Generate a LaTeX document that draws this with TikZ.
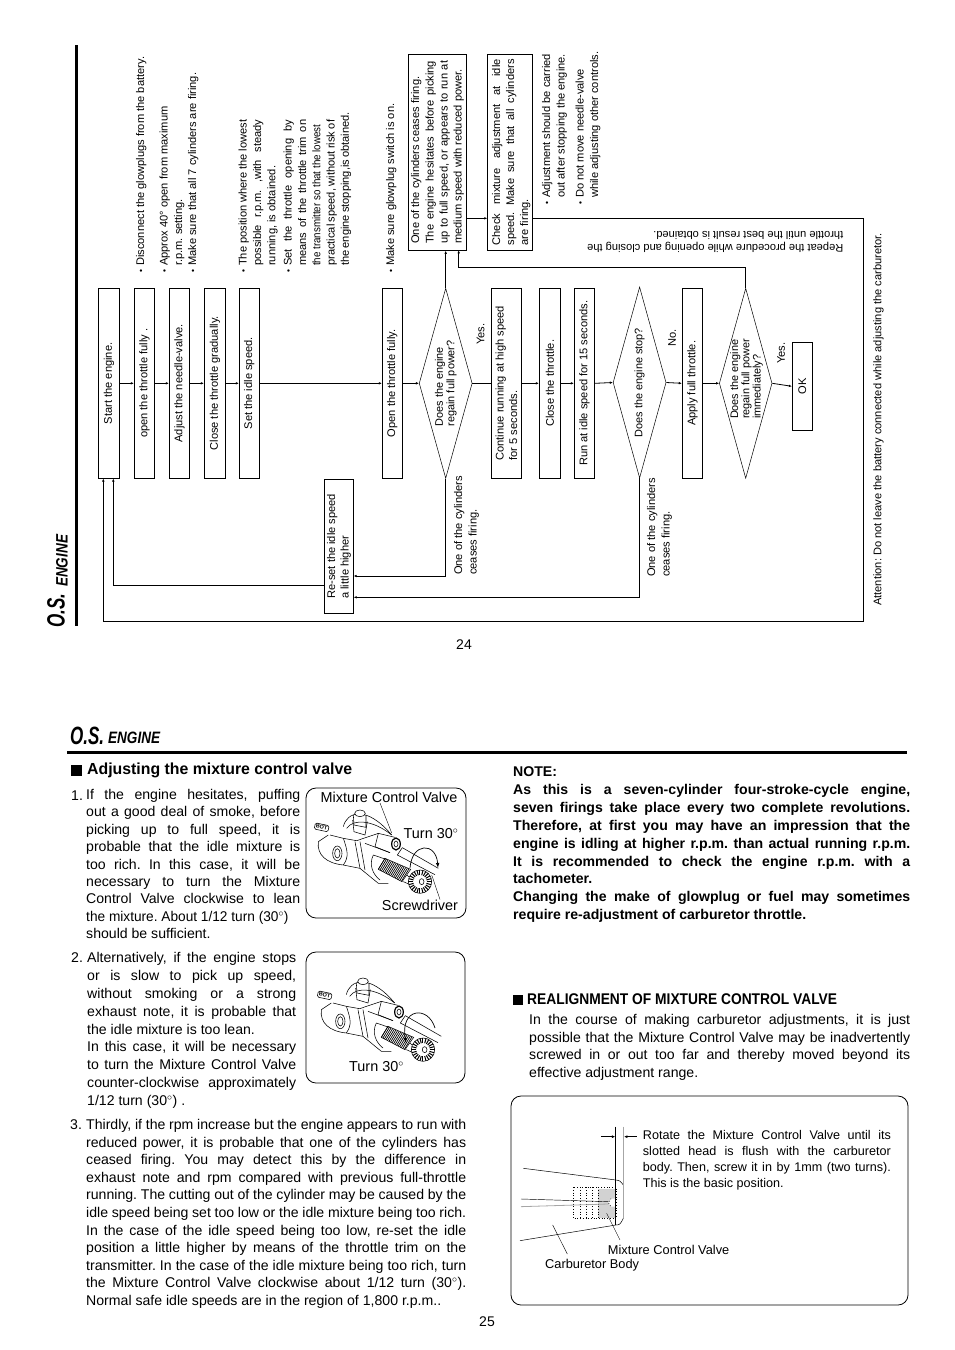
\documentclass[tikz,border=0pt]{standalone}
\usepackage{fontspec}
\setmainfont{Liberation Sans}
\usetikzlibrary{arrows.meta,positioning,shapes.geometric}
\newcommand\bul{\makebox[7pt][l]{\raisebox{.4pt}{\fontsize{8.5}{8}\selectfont\textbullet}}}
\newcommand\ind{\hspace*{7pt}}
\newcommand\dg{$^{\circ}$}
\tolerance=9999 \hbadness=10000 \hfuzz=20pt
\frenchspacing

\tikzset{
  carb/.pic={
    \begin{scope}[x=.3333pt,y=-.3333pt,line width=.55pt]
      \node[draw,rounded corners=1.5pt,rotate=-12,inner sep=1.2pt,font=\fontsize{5.5}{6}\selectfont\bfseries] (tag) at (35,82) {BOT};
      \draw (55,105) -- (25,125) .. controls (20,165) and (50,190) .. (100,195);
      \draw (60,105) -- (100,115) -- (140,122) -- (205,100);
      \draw (82,160) ellipse (14 and 22) (82,160) ellipse (8 and 14);
      \draw (100,115) .. controls (112,150) and (118,170) .. (100,195);
      \draw (100,195) -- (150,205) -- (205,250) -- (235,250);
      \draw (135,125) -- (150,205) (150,125) -- (165,210) (165,130) -- (240,158);
      \draw (100,80) .. controls (110,35) and (170,15) .. (245,105);
      \draw (110,85) .. controls (130,55) and (190,60) .. (245,105);
      \draw (128,60) -- (132,95) -- (165,105) -- (172,65);
      \draw[fill=white] (150,40) ellipse (16 and 10);
      \draw (130,45) -- (132,75) -- (168,82) -- (168,45);
      \draw (205,100) -- (255,112) (205,100) -- (195,140) -- (240,158);
      \draw[line width=1.2pt] (258,132) ellipse (13 and 18);
      \draw (258,132) ellipse (6 and 9);
      \draw (190,165) .. controls (175,195) and (190,225) .. (210,240);
      \draw (190,165) -- (228,178);
      \draw (225,175) -- (302,208) -- (276,245) -- (205,208) -- cycle;
      \foreach \t in {0,...,15} \draw[line width=.7pt] ({225+\t*4.8},{175+\t*2.1}) -- ({205+\t*4.6},{208+\t*2.4});
      \draw (290,225) -- (310,240) (280,245) -- (296,252);
      \draw (277,143) -- (385,205) (262,165) -- (375,224);
      \draw (277,143) -- (262,165);
      \draw[fill=white] (330,245) circle (35);
      \foreach \a in {0,15,...,345} \draw[line width=1pt] ({330+20*cos(\a)},{245+20*sin(\a)}) -- ({330+35*cos(\a)},{245+35*sin(\a)});
      \draw (335,245) ellipse (7 and 9);
    \end{scope}
  }
}

\begin{document}
\begin{tikzpicture}[
  x=1pt, y=-1pt,
  flowbox/.style={draw, line width=.9pt, rotate=90, minimum width=190pt, inner sep=0pt, align=center, font=\fontsize{11.1}{13.5}\selectfont},
  query/.style={draw, line width=.5pt, diamond, rotate=90, minimum width=190pt, minimum height=53pt, inner sep=0pt, shape aspect=3.6, align=center, font=\fontsize{10.9}{11.5}\selectfont},
  note/.style={rotate=90, anchor=north west, inner sep=0pt, align=left, font=\fontsize{11.1}{14.3}\selectfont},
  para/.style={anchor=north west, inner sep=0pt, align=justify, font=\fontsize{14.1}{17.6}\selectfont},
  arr/.style={-{Latex[length=3pt,width=2.6pt]}, line width=.8pt},
  wire/.style={line width=.8pt},
  panel/.style={draw, line width=.8pt, rounded corners=10pt},
  leader/.style={line width=.4pt},
  logo/.style={inner sep=0pt, font=\bfseries\itshape}
]
  \useasboundingbox (0,0) rectangle (954,1350);

  % flow chart, lying on its side
  \draw[line width=3pt] (76,45) -- (76,626);
  \node[flowbox, minimum height=21pt] (start) at (109,383.3) {Start the engine.};
  \node[flowbox, minimum height=20.4pt] (openthr) at (144.5,383.3) {open the throttle fully .};
  \node[flowbox, minimum height=20.4pt] (needle) at (179.5,383.3) {Adjust the needle-valve.};
  \node[flowbox, minimum height=21.4pt] (closegrad) at (215,383.3) {Close the throttle gradually.};
  \node[flowbox, minimum height=20pt] (idle) at (249.3,383.3) {Set the idle speed.};
  \node[flowbox, minimum height=20pt] (openfull) at (392.3,383.3) {Open the throttle fully.};
  \node[query, align=left] (power) at (445.7,383.3) {Does the engine\\regain full power?};
  \node[flowbox, minimum height=30.4pt, align=left] (cont) at (506.5,383.3) {Continue running at high speed\\for 5 seconds.};
  \node[flowbox, minimum height=21.4pt] (closethr) at (550,383.3) {Close the throttle.};
  \node[flowbox, minimum height=20.4pt] (run) at (584.5,383.3) {Run at idle speed for 15 seconds.};
  \node[query, minimum width=191pt] (stops) at (639.6,382.5) {Does the engine stop?};
  \node[flowbox, minimum height=20.4pt] (apply) at (692.5,383.3) {Apply full throttle.};
  \node[query, minimum height=52.7pt] (again) at (745.7,383.3) {};
  \node[rotate=90, inner sep=0pt, align=left, font=\fontsize{10.9}{11.3}\selectfont] (againtxt) at (746.5,379) {Does the engine\\regain full power\\immediately?};
  \node[flowbox, minimum width=88pt, minimum height=20pt] (ok) at (802.3,386.3) {OK};
  \node[flowbox, minimum width=134pt, minimum height=29.4pt, align=left] (reset) at (339,546.3) {Re-set the idle speed\\a little higher};
  \node[flowbox, minimum width=196pt, minimum height=58.4pt] (ceases) at (437.5,152.3) {\parbox{183pt}{\fontsize{11.1}{14}\selectfont\raggedright One of the cylinders ceases firing.\\[.6pt]\leavevmode\makebox[183pt][s]{The engine hesitates before picking}\\\makebox[183pt][s]{up to full speed, or appears to run at}\\medium speed with reduced power.}};
  \node[flowbox, minimum width=196pt, minimum height=45pt] (check) at (509.8,152.3) {\parbox{186pt}{\fontsize{11.1}{14}\selectfont\raggedright\vspace*{3pt}\makebox[186pt][s]{Check mixture adjustment at idle}\\\makebox[186pt][s]{speed. Make sure that all cylinders}\\are firing.}};

  \draw[arr] (start.south) -- (openthr.north);
  \draw[arr] (openthr.south) -- (needle.north);
  \draw[arr] (needle.south) -- (closegrad.north);
  \draw[arr] (closegrad.south) -- (idle.north);
  \draw[arr] (idle.south) -- (openfull.north);
  \draw[arr] (openfull.south) -- (power.north);
  \draw[wire] (power.south) -- (cont.north);
  \draw[arr] (cont.south) -- (closethr.north);
  \draw[arr] (closethr.south) -- (run.north);
  \draw[arr] (run.south) -- (stops.north);
  \draw[arr] (stops.south) -- (apply.north);
  \draw[arr] (apply.south) -- (again.north);
  \draw[arr] (again.south) -- (ok.north);
  \draw[arr] (power.east) -- (power.east |- ceases.west);

  % return lines
  \coordinate (startleft) at (103.3,478.5);
  \coordinate (startright) at (113.3,478.5);
  \coordinate (resetout) at (324.3,585.3);
  \coordinate (resetin) at (353.7,576);
  \coordinate (resetin2) at (353.7,597.3);
  \coordinate (cornerbl) at (863.3,621.3);
  \coordinate (cornertr) at (863.3,218.3);
  \coordinate (checkout) at (532.3,218.3);
  \coordinate (checkin) at (487.3,218.3);
  \coordinate (ceasesout) at (466.7,218.3);
  \coordinate (ceasesin) at (458.7,250.3);
  \draw[arr] (resetout) -| (startright);
  \draw[arr] (power.west) |- (resetin);
  \draw[arr] (stops.west) |- (resetin2);
  \draw[arr] (checkout) -- (cornertr) -- (cornerbl) -| (startleft);
  \draw[arr] (ceasesout) -- (checkin);
  \draw[arr] (again.east) |- (ceasesin |- 0,267.3) -- (ceasesin);

  % notes along the chart
  \node[note] (n1) at (136,273) {\bul Disconnect the glowplugs from the battery.};
  \node[note] (n2) at (159.5,273) {\bul Approx 40\textdegree\ open from maximum\\\ind r.p.m. setting.};
  \node[note] (n3) at (188,273) {\bul Make sure that all 7 cylinders are firing.};
  \node[note] (n4) at (238.5,273) {\bul\makebox[146pt][s]{The position where the lowest}\\\ind\makebox[146pt][s]{possible r.p.m. ,with steady}\\\ind running, is obtained.};
  \node[note] (n5) at (283.5,273) {\bul\makebox[146pt][s]{Set the throttle opening by}\\\ind\makebox[146pt][s]{means of the throttle trim on}\\\ind\makebox[146pt][s]{\scalebox{.88}[1]{the transmitter so that the lowest}}\\\ind\makebox[146pt][s]{practical speed, without risk of}\\\ind\makebox[146pt][s]{the engine stopping,is obtained.}};
  \node[note] (n6) at (386,273) {\bul Make sure glowplug switch is on.};
  \node[note] (n7) at (542,205) {\bul Adjustment should be carried\\\ind out after stopping the engine.};
  \node[note] (n8) at (575.5,205) {\bul Do not move needle-valve\\\ind while adjusting other controls.};

  \node[note] (firing1) at (454,575) {One of the cylinders\\ceases firing.};
  \node[note] (firing2) at (647,577) {One of the cylinders\\ceases firing.};
  \node[note] (yes1) at (476.5,345) {Yes.};
  \node[note] (no) at (668,347) {No.};
  \node[note] (yes2) at (777,364) {Yes.};
  \node[note] (attn) at (873,606) {Attention: Do not leave the battery connected while adjusting the carburetor.};
  \node[inner sep=0pt, rotate=180, align=left, anchor=north west, font=\fontsize{11.1}{13}\selectfont] (repeat) at (843.5,253) {Repeat the procedure while opening and closing the\\throttle until the best result is obtained.};

  % logos and rules
  \node[logo, rotate=90, anchor=north west] (os1) at (47,627.5) {\scalebox{.68}[1]{\fontsize{25}{25}\selectfont O.S.}};
  \node[logo, rotate=90, anchor=north west] (eng1) at (56,587) {\scalebox{.82}[1]{\fontsize{16.5}{17}\selectfont ENGINE}};
  \node[logo, anchor=north west] (os2) at (70,727) {\scalebox{.68}[1]{\fontsize{25}{25}\selectfont O.S.}};
  \node[logo, anchor=north west] (eng2) at (108,732) {\scalebox{.82}[1]{\fontsize{16.5}{17}\selectfont ENGINE}};
  \draw[line width=3pt] (67,752.5) -- (907,752.5);
  \node[inner sep=0pt, font=\fontsize{14}{14}\selectfont] (page24) at (464,645) {24};
  \node[inner sep=0pt, font=\fontsize{14}{14}\selectfont] (page25) at (487,1322) {25};

  % left column
  \node[fill=black, minimum size=10.5pt, inner sep=0pt] (sq1) at (76.5,770.5) {};
  \node[inner sep=0pt, anchor=west, font=\fontsize{16}{18}\selectfont\bfseries] (head1) at (87,770) {\scalebox{.99}[1]{Adjusting the mixture control valve}};
  \node[para, text width=14pt] (num1) at (71,791) {1.};
  \node[para, text width=214pt, font=\fontsize{14.1}{17.4}\selectfont] (item1) at (86,789) {If the engine hesitates, puffing\linebreak out a good deal of smoke, before\linebreak picking up to full speed, it is\linebreak probable that the idle mixture is\linebreak too rich. In this case, it will be\linebreak necessary to turn the Mixture\linebreak Control Valve clockwise to lean\linebreak \scalebox{.97}[1]{the mixture. About 1/12 turn (30\dg)}\linebreak should be sufficient.};
  \node[para, text width=14pt] (num2) at (71,952) {2.};
  \node[para, text width=209pt, font=\fontsize{14.1}{17.9}\selectfont] (item2) at (87,952) {Alternatively, if the engine stops\linebreak or is slow to pick up speed,\linebreak without smoking or a strong\linebreak exhaust note, it is probable that\linebreak the idle mixture is too lean.\\In this case, it will be necessary\linebreak to turn the Mixture Control Valve\linebreak counter-clockwise approximately\linebreak 1/12 turn (30\dg) .};
  \node[para, text width=14pt] (num3) at (70,1119) {3.};
  \node[para, text width=380pt] (item3) at (86,1119) {Thirdly, if the rpm increase but the engine appears to run with\linebreak reduced power, it is probable that one of the cylinders has\linebreak ceased firing. You may detect this by the difference in\linebreak exhaust note and rpm compared with previous full-throttle\linebreak running. The cutting out of the cylinder may be caused by the\linebreak idle speed being set too low or the idle mixture being too rich.\linebreak In the case of the idle speed being too low, re-set the idle\linebreak position a little higher by means of the throttle trim on the\linebreak transmitter. In the case of the idle mixture being too rich, turn\linebreak the Mixture Control Valve clockwise about 1/12 turn (30\dg).\linebreak Normal safe idle speeds are in the region of 1,800 r.p.m..};

  % valve pictures
  \node[panel, minimum width=160pt, minimum height=130pt] (valve1) at (386,853) {};
  \pic at (310,800) {carb};
  \node[inner sep=0pt, font=\fontsize{14.4}{15}\selectfont] (mcv) at (389,797) {Mixture Control Valve};
  \node[inner sep=0pt, font=\fontsize{14.4}{15}\selectfont] (turn1) at (431,834) {Turn 30\dg};
  \node[inner sep=0pt, font=\fontsize{14.4}{15}\selectfont] (driver) at (420,905) {Screwdriver};
  \coordinate (mcvtip) at (391.7,833);
  \coordinate (drivertip) at (431.7,875);
  \draw[leader] (380,803) -- (mcvtip);
  \draw[leader] (drivertip) -- (driver.north -| 440,0);
  \coordinate (arc1a) at (410,868);
  \coordinate (arc1b) at (438,868);
  \draw[-{Latex[length=5pt,width=3.5pt]}, line width=.7pt] (arc1a) .. controls (412,842) and (436,842) .. (arc1b);

  \node[panel, minimum width=159pt, minimum height=131pt] (valve2) at (385.5,1017.5) {};
  \pic at (313,968) {carb};
  \node[inner sep=0pt, font=\fontsize{14.4}{15}\selectfont] (turn2) at (376.5,1067) {Turn 30\dg};
  \coordinate (arc2a) at (435,1028);
  \coordinate (arc2b) at (406,1043);
  \draw[-{Latex[length=5pt,width=3.5pt]}, line width=.7pt] (arc2a) .. controls (428,1005) and (400,1008) .. (arc2b);

  % right column
  \node[para, text width=397pt, font=\fontsize{14.1}{17.9}\selectfont\bfseries] (notetxt) at (513,766.5) {NOTE:\\As this is a seven-cylinder four-stroke-cycle engine,\linebreak seven firings take place every two complete revolutions.\linebreak Therefore, at first you may have an impression that the\linebreak engine is idling at higher r.p.m. than actual running r.p.m.\linebreak It is recommended to check the engine r.p.m. with a\linebreak tachometer.\\Changing the make of glowplug or fuel may sometimes\linebreak require re-adjustment of carburetor throttle.};
  \node[fill=black, minimum size=10pt, inner sep=0pt] (sq2) at (518,1000) {};
  \node[inner sep=0pt, anchor=west, font=\fontsize{15.5}{17}\selectfont\bfseries] (head2) at (527,999) {\scalebox{.89}[1]{REALIGNMENT OF MIXTURE CONTROL VALVE}};
  \node[para, text width=381pt] (realign) at (529,1014) {In the course of making carburetor adjustments, it is just\linebreak possible that the Mixture Control Valve may be inadvertently\linebreak screwed in or out too far and thereby moved beyond its\linebreak effective adjustment range.};

  % basic position sketch
  \node[panel, minimum width=397pt, minimum height=209pt] (basic) at (709.5,1200.5) {};
  \begin{scope}[shift={(505,1090)}, x=.3333pt, y=-.3333pt]
    \fill[gray!35] (280,298) rectangle (333,385);
    \fill[white] (333,326) -- (318,326) -- (310,338) -- (318,350) -- (333,350) -- cycle;
    \draw[dotted, line width=.7pt] (205,292) rectangle (333,385);
    \foreach \x in {225,245,262,280} \draw[dotted, line width=.7pt] (\x,292) -- (\x,385);
    \draw[dotted, line width=.7pt] (318,326) -- (310,338) -- (318,350);
    \draw[line width=.45pt] (48,327) -- (310,335);
    \draw[gray!70, line width=.8pt] (48,350) -- (310,342);
    \draw[line width=.5pt] (55,235) -- (333,270) .. controls (345,272) .. (355,285);
    \draw[line width=.5pt] (45,452) -- (333,405) .. controls (345,404) .. (355,385);
    \draw[line width=1pt] (333,110) -- (333,405);
    \draw[gray!70, line width=.8pt] (355,110) -- (355,385);
    \coordinate (gapl) at (288,140);
    \coordinate (gapr) at (395,140);
    \draw[-{Latex[length=3.5pt,width=3pt]}, line width=.7pt] (gapl) -- (331,140);
    \draw[-{Latex[length=3.5pt,width=3pt]}, line width=.7pt] (gapr) -- (357,140);
    \draw[leader] (143,405) -- (187,492);
    \draw[leader] (305,370) -- (345,450);
  \end{scope}
  \node[para, text width=248pt, font=\fontsize{12.6}{16}\selectfont] (rotatetxt) at (642.7,1130) {Rotate the Mixture Control Valve until its\linebreak slotted head is flush with the carburetor\linebreak body. Then, screw it in by 1mm (two turns).\linebreak This is the basic position.};
  \node[inner sep=0pt, anchor=west, font=\fontsize{12.8}{14}\selectfont] (mcv2) at (607.7,1249.5) {Mixture Control Valve};
  \node[inner sep=0pt, anchor=west, font=\fontsize{12.8}{14}\selectfont] (body) at (545,1264.7) {Carburetor Body};
\end{tikzpicture}
\end{document}
